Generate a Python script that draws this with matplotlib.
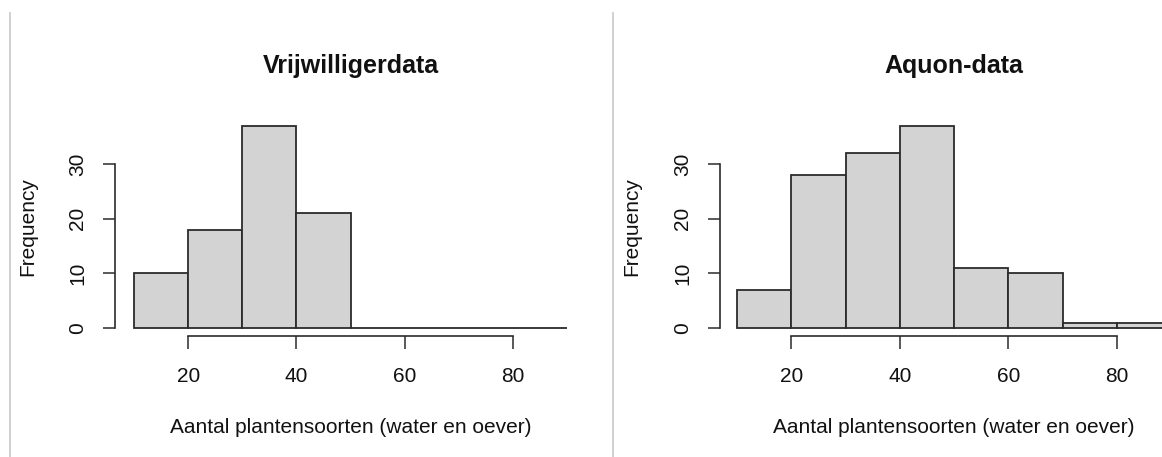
import matplotlib.pyplot as plt
from matplotlib.lines import Line2D
import numpy as np

plt.rcParams['font.family'] = ['Liberation Sans', 'DejaVu Sans']

# histogram data (bins of width 10)
bin_edges = [10, 20, 30, 40, 50, 60, 70, 80, 90]
vrijwilliger_counts = [10, 18, 37, 21, 0, 0, 0, 0]
aquon_counts = [7, 28, 32, 37, 11, 10, 1, 1]
titles = ['Vrijwilligerdata', 'Aquon-data']
x_ticks = [20, 40, 60, 80]
y_ticks = [0, 10, 20, 30]
xlabel = 'Aantal plantensoorten (water en oever)'
ylabel = 'Frequency'

W, H = 1162, 457
PT = 0.72  # points per pixel at dpi 100
fig = plt.figure(figsize=(W / 100, H / 100), dpi=100)


def px_axes(left, right, top, bottom):
    return fig.add_axes([left / W, 1 - bottom / H, (right - left) / W, (bottom - top) / H])


# axes, counts, title, y-axis offset (px), ylabel right edge (px)
panels = [
    (px_axes(134, 567, 126, 328), vrijwilliger_counts, titles[0], 19, 37),
    (px_axes(737, 1171, 126, 328), aquon_counts, titles[1], 17, 641),
]

line_col = '#2b2b2b'
for ax, counts, title, yout, ylab_x in panels:
    ax.bar(bin_edges[:-1], counts, width=np.diff(bin_edges), align='edge',
           color='#d3d3d3', edgecolor=line_col, linewidth=1.3, clip_on=False)
    ax.set_xlim(bin_edges[0], bin_edges[-1])
    ax.set_ylim(0, 37)

    for side in ['top', 'right']:
        ax.spines[side].set_visible(False)
    ax.spines['left'].set_bounds(y_ticks[0], y_ticks[-1])
    ax.spines['left'].set_position(('outward', yout * PT))
    ax.spines['bottom'].set_bounds(x_ticks[0], x_ticks[-1])
    ax.spines['bottom'].set_position(('outward', 8 * PT))
    for s in ['left', 'bottom']:
        ax.spines[s].set_color(line_col)
        ax.spines[s].set_linewidth(1.2)

    ax.set_xticks(x_ticks)
    ax.set_yticks(y_ticks)
    ax.tick_params(axis='both', length=9, width=1.1, color=line_col,
                   labelsize=15, labelcolor='#111111')
    ax.tick_params(axis='x', pad=13)
    ax.tick_params(axis='y', pad=11)
    plt.setp(ax.get_yticklabels(), rotation=90, va='center')

    ax.set_title(title, fontsize=18, fontweight='bold', pad=38, color='#111111')
    ax.set_xlabel(xlabel, fontsize=15, color='#111111')
    ax.xaxis.set_label_coords(0.5, (328 - 418) / 202)
    ax.set_ylabel(ylabel, fontsize=15, color='#111111')
    x0 = ax.get_position().x0 * W
    wpx = ax.get_position().width * W
    ax.yaxis.set_label_coords((ylab_x - x0) / wpx, 0.5)

# thin grey borders between the two images
for xpx in [10, 613]:
    fig.add_artist(Line2D([xpx / W, xpx / W], [0, 1 - 13 / H], transform=fig.transFigure,
                          color='#c8c8c8', linewidth=1.2))

fig.savefig('out.png', dpi=100)
